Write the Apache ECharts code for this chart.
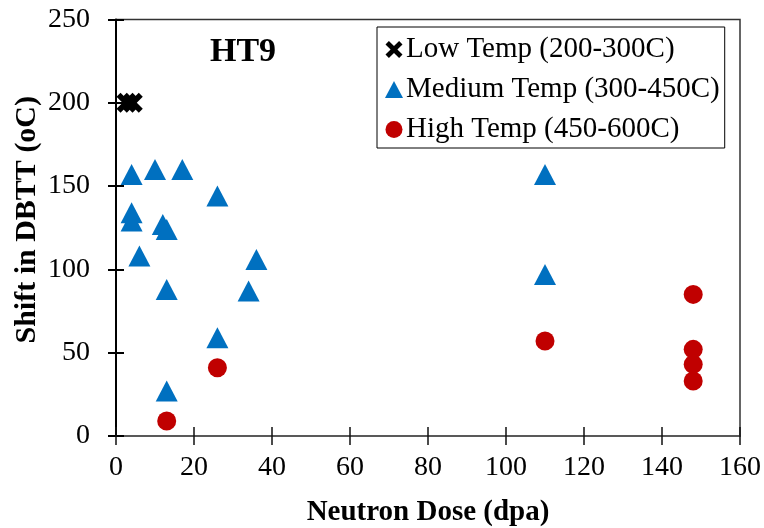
<!DOCTYPE html>
<html>
<head>
<meta charset="utf-8">
<script src="https://cdn.jsdelivr.net/npm/echarts@6/dist/echarts.min.js"></script>
<style>
html,body{margin:0;padding:0;background:#fff;}
#chart{width:764px;height:528px;}
</style>
</head>
<body>
<div id="chart"></div>
<script>
// ---- data ----
var seriesNames = ['Low Temp (200-300C)', 'Medium Temp (300-450C)', 'High Temp (450-600C)'];
var lowDose = [2.7, 4.3];
var lowShift = [200, 200];
var medDose = [4, 4, 4, 6, 10, 12, 13, 13, 13, 17, 26, 26, 34, 36, 110, 110];
var medShift = [157, 134, 129, 108, 160, 127, 124, 88, 27, 160, 144, 59, 87, 106, 157, 97];
var highDose = [13, 26, 110, 148, 148, 148, 148];
var highShift = [9, 41, 57, 85, 52, 43, 33];
var xTicks = [0, 20, 40, 60, 80, 100, 120, 140, 160];
var yTicks = [0, 50, 100, 150, 200, 250];
var titleText = 'HT9';
var xTitle = 'Neutron Dose (dpa)';
var yTitle = 'Shift in DBTT (oC)';

function pairs(xs, ys) { return xs.map(function (x, i) { return [x, ys[i]]; }); }

var FONT = "'Liberation Serif', 'Times New Roman', serif";
var crossPath = 'path://M0,4 L4,0 L10,6 L16,0 L20,4 L14,10 L20,16 L16,20 L10,14 L4,20 L0,16 L6,10 Z';

var xMin = xTicks[0], xMax = xTicks[xTicks.length - 1], xInt = xTicks[1] - xTicks[0];
var yMin = yTicks[0], yMax = yTicks[yTicks.length - 1], yInt = yTicks[1] - yTicks[0];

var chart = echarts.init(document.getElementById('chart'), null, {renderer: 'canvas'});
chart.setOption({
  animation: false,
  backgroundColor: '#ffffff',
  title: {
    text: titleText, left: 205, top: 30,
    textStyle: {fontFamily: FONT, fontWeight: 'bold', fontSize: 34, color: '#000'}
  },
  legend: {
    orient: 'vertical', left: 377, top: 27,
    data: seriesNames,
    borderColor: '#000', borderWidth: 1,
    padding: [8, 5, 4, 8],
    itemGap: 11, itemWidth: 18, itemHeight: 17,
    textStyle: {fontFamily: FONT, fontSize: 29, color: '#000', padding: [0, 0, 0, -2]}
  },
  grid: {left: 116, right: 24, top: 19.5, bottom: 92, show: true, borderColor: '#333', borderWidth: 1.5,
         backgroundColor: 'transparent', outerBoundsMode: 'none', containLabel: false},
  xAxis: [{
    type: 'value', min: xMin, max: xMax, interval: xInt, position: 'bottom',
    name: xTitle, nameLocation: 'middle', nameGap: 62, nameMoveOverlap: false,
    nameTextStyle: {fontFamily: FONT, fontWeight: 'bold', fontSize: 29, color: '#000'},
    axisLine: {show: true, onZero: false, lineStyle: {color: '#595959', width: 2}},
    axisTick: {show: true, length: 9, lineStyle: {color: '#111', width: 1.5}},
    axisLabel: {fontFamily: FONT, fontSize: 28, color: '#000', margin: 18},
    splitLine: {show: false}
  }, {
    type: 'value', min: xMin, max: xMax, interval: xInt, position: 'bottom',
    axisLine: {show: false},
    axisTick: {show: true, inside: true, length: 9, lineStyle: {color: '#111', width: 1.5}},
    axisLabel: {show: false}, splitLine: {show: false}
  }],
  yAxis: [{
    type: 'value', min: yMin, max: yMax, interval: yInt, position: 'left',
    name: yTitle, nameLocation: 'middle', nameGap: 74, nameMoveOverlap: false,
    nameTextStyle: {fontFamily: FONT, fontWeight: 'bold', fontSize: 30, color: '#000', padding: [0, 0, 0, 16]},
    axisLine: {show: true, onZero: false, lineStyle: {color: '#000', width: 2}},
    axisTick: {show: true, length: 8, lineStyle: {color: '#000', width: 2}},
    axisLabel: {fontFamily: FONT, fontSize: 28, color: '#000', margin: 26},
    splitLine: {show: false}
  }, {
    type: 'value', min: yMin, max: yMax, interval: yInt, position: 'left',
    axisLine: {show: false},
    axisTick: {show: true, inside: true, length: 8, lineStyle: {color: '#000', width: 2}},
    axisLabel: {show: false}, splitLine: {show: false}
  }],
  series: [{
    name: seriesNames[0], type: 'scatter', xAxisIndex: 0, yAxisIndex: 0,
    symbol: crossPath, symbolSize: 20,
    itemStyle: {color: '#000', opacity: 1},
    data: pairs(lowDose, lowShift), z: 5
  }, {
    name: seriesNames[1], type: 'scatter', xAxisIndex: 0, yAxisIndex: 0,
    symbol: 'triangle', symbolSize: [22, 21],
    itemStyle: {color: '#0070C0', opacity: 1},
    data: pairs(medDose, medShift), z: 3
  }, {
    name: seriesNames[2], type: 'scatter', xAxisIndex: 0, yAxisIndex: 0,
    symbol: 'circle', symbolSize: 19,
    itemStyle: {color: '#C00000', opacity: 1},
    data: pairs(highDose, highShift), z: 4
  }]
});
</script>
</body>
</html>
